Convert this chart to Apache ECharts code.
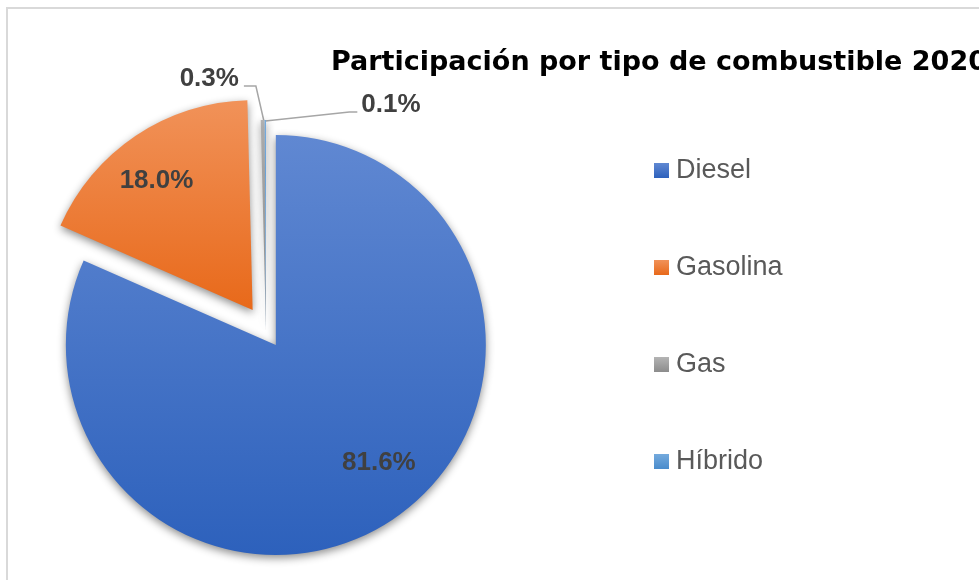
<!DOCTYPE html>
<html lang="es">
<head>
<meta charset="UTF-8">
<title>Participación por tipo de combustible 2020</title>
<script src="https://cdn.jsdelivr.net/npm/echarts@6/dist/echarts.min.js"></script>
<style>html,body{margin:0;padding:0;background:#fff}</style>
</head>
<body>
<div id="main" style="width:979px;height:580px;"></div>
<script>
    const chart = echarts.init(document.getElementById('main'));

    const names = ['Diesel', 'Gasolina', 'Gas', 'Híbrido'];
    const values = [81.6, 18.0, 0.3, 0.1];
    // degradado vertical tipo Excel: [arriba, abajo]
    const colors = [
        ['#6088d2', '#2d61bc'],
        ['#f19259', '#e8691a'],
        ['#b4b4b4', '#8c8c8c'],
        ['#74aadd', '#4a8ccc']
    ];

    const grad = (i) => new echarts.graphic.LinearGradient(0, 0, 0, 1, [
        {offset: 0, color: colors[i][0]},
        {offset: 1, color: colors[i][1]}
    ]);

    const labelStyle = {
        color: '#404040',
        fontFamily: 'Liberation Sans',
        fontWeight: 'bold',
        fontSize: 26,
        formatter: (p) => p.value.toFixed(1) + '%'
    };

    // solo se pintan las porciones "visible", el resto queda transparente
    const buildData = (visible, position) => names.map((n, i) => {
        if (visible.indexOf(i) < 0) {
            return {
                name: n, value: values[i],
                itemStyle: {color: 'rgba(0,0,0,0)', shadowBlur: 0},
                label: {show: false},
                labelLine: {show: false}
            };
        }
        return {
            name: n, value: values[i],
            selected: true,
            itemStyle: {color: grad(i)},
            label: Object.assign({show: true, position: position}, labelStyle),
            labelLine: {show: position === 'outside'}
        };
    });

    const basePie = {
        type: 'pie',
        center: [266, 330],
        radius: 210,
        startAngle: 90,
        clockwise: true,
        selectedMode: 'multiple',
        avoidLabelOverlap: false,
        itemStyle: {
            shadowBlur: 9,
            shadowOffsetY: 3,
            shadowColor: 'rgba(0,0,0,0.45)'
        },
        emphasis: {scale: false}
    };

    const option = {
        backgroundColor: '#fff',
        animation: false,
        title: {
            text: 'Participación por tipo de combustible 2020',
            left: 331,
            top: 49,
            padding: 0,
            textStyle: {
                fontFamily: 'DejaVu Sans',
                fontWeight: 'bold',
                fontSize: 27,
                color: '#000'
            }
        },
        legend: {
            orient: 'vertical',
            left: 654,
            top: 157,
            padding: 0,
            itemWidth: 15,
            itemHeight: 15,
            itemGap: 70,
            icon: 'rect',
            textStyle: {
                fontFamily: 'Liberation Sans',
                fontSize: 27,
                lineHeight: 27,
                padding: [0, 0, 0, 2],
                color: '#595959'
            },
            data: names.map((n, i) => ({name: n, itemStyle: {color: grad(i)}}))
        },
        graphic: [{
            type: 'rect',
            shape: {x: 7, y: 8, width: 1200, height: 800},
            style: {fill: 'none', stroke: '#d9d9d9', lineWidth: 2},
            silent: true
        }],
        series: [
            Object.assign({}, basePie, {
                name: 'Diesel',
                selectedOffset: 18,
                data: buildData([0], 'inside'),
                labelLayout: {dx: 44, dy: 27}
            }),
            Object.assign({}, basePie, {
                name: 'Gasolina',
                selectedOffset: 24,
                data: buildData([1], 'inside'),
                labelLayout: {dx: -36, dy: -40}
            }),
            Object.assign({}, basePie, {
                name: 'Otros',
                selectedOffset: 0,
                data: buildData([2, 3], 'outside'),
                labelLine: {
                    show: true,
                    lineStyle: {color: '#a6a6a6', width: 1.5}
                },
                // etiquetas externas: se desplazan desde su posición por defecto
                labelLayout: function (p) {
                    const r = p.rect, lr = p.labelRect;
                    if (p.dataIndex === 2) {
                        const x0 = r.x + r.width * 0.6, y0 = r.y + 1;
                        return {
                            dx: (x0 - 25) - (lr.x + lr.width),
                            dy: (y0 - 42) - (lr.y + lr.height / 2),
                            labelLinePoints: [[x0, y0], [x0 - 8, y0 - 35], [x0 - 20, y0 - 35]]
                        };
                    }
                    if (p.dataIndex === 3) {
                        const x0 = r.x + r.width * 0.5, y0 = r.y + 1;
                        return {
                            dx: (x0 + 96) - lr.x,
                            dy: (y0 - 16) - (lr.y + lr.height / 2),
                            labelLinePoints: [[x0, y0], [x0 + 84, y0 - 9], [x0 + 92, y0 - 9]]
                        };
                    }
                    return {};
                }
            })
        ]
    };

    chart.setOption(option);
</script>
</body>
</html>
